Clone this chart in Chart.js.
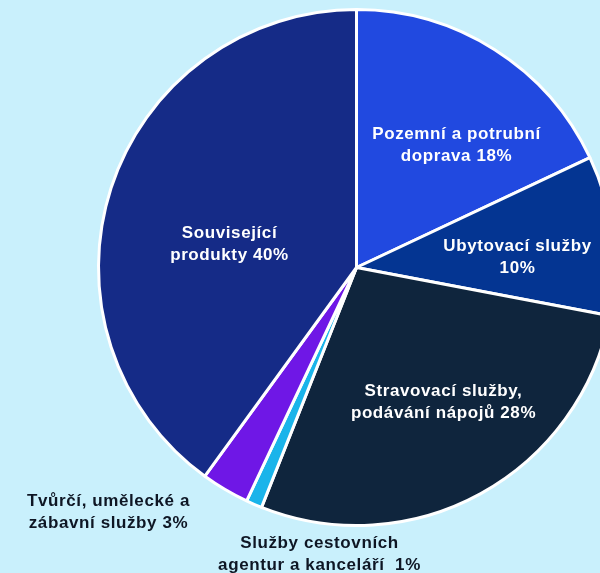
<!DOCTYPE html>
<html lang="cs">
<head>
<meta charset="utf-8">
<script src="https://cdn.jsdelivr.net/npm/chart.js@4"></script>
<style>
    html, body { margin: 0; padding: 0; }
    body { width: 600px; height: 573px; overflow: hidden; background: #c9f0fc; position: relative; }
    #pie_canvas { position: absolute; left: 0; top: 0; }
</style>
</head>
<body>
<canvas id="pie_canvas" width="714" height="573"></canvas>
<script>
// slices clockwise from 12 o'clock
let categories = [
    ["Pozemní a potrubní", "doprava"],
    ["Ubytovací služby"],
    ["Stravovací služby,", "podávání nápojů"],
    ["Služby cestovních", "agentur a kanceláří "],
    ["Tvůrčí, umělecké a", "zábavní služby"],
    ["Související", "produkty"]
];
let shares = [18, 10, 28, 1, 3, 40];
let sliceColors = ["#2149e0", "#043592", "#0f253d", "#1ab4ea", "#6f17e6", "#152b87"];
let textColors = ["#ffffff", "#ffffff", "#ffffff", "#0e1624", "#0e1624", "#ffffff"];

// where each label sits, relative to the pie centre
let labelOffsets = [[100, -122], [161, -10], [87, 135], [-37, 287], [-248, 245], [-127, -23]];

let sliceLabels = {
    id: "sliceLabels",
    afterDraw(chart){
        let ctx = chart.ctx;
        let arcs = chart.getDatasetMeta(0).data;
        ctx.save();
        ctx.font = "bold 17px 'Liberation Sans', Arial, sans-serif";
        ctx.letterSpacing = "0.6px";
        ctx.textAlign = "center";
        ctx.textBaseline = "middle";
        for(let i = 0; i < arcs.length; i++){
            let lines = categories[i].slice();
            let last = lines.length - 1;
            // the short one-liner gets its value on a line of its own
            if(lines.length === 1){
                lines.push(shares[i] + "%");
            } else {
                lines[last] = lines[last] + " " + shares[i] + "%";
            }
            let cx = arcs[i].x + labelOffsets[i][0];
            let cy = arcs[i].y + labelOffsets[i][1];
            let lineHeight = 22;
            let top = cy - (lines.length - 1) * lineHeight / 2;
            ctx.fillStyle = textColors[i];
            for(let j = 0; j < lines.length; j++){
                ctx.fillText(lines[j], cx, top + j * lineHeight);
            }
        }
        ctx.restore();
    }
};

new Chart(document.getElementById("pie_canvas"), {
    type: "pie",
    data: {
        labels: categories.map(l => l.join(" ")),
        datasets: [
            {
                data: shares,
                backgroundColor: sliceColors,
                borderColor: "#ffffff",
                borderWidth: 3
            }
        ]
    },
    options: {
        responsive: false,
        animation: false,
        layout: { padding: { left: 97, right: 98, top: 8, bottom: 46 } },
        plugins: {
            legend: { display: false },
            tooltip: { enabled: false }
        }
    },
    plugins: [sliceLabels]
});
</script>
</body>
</html>
